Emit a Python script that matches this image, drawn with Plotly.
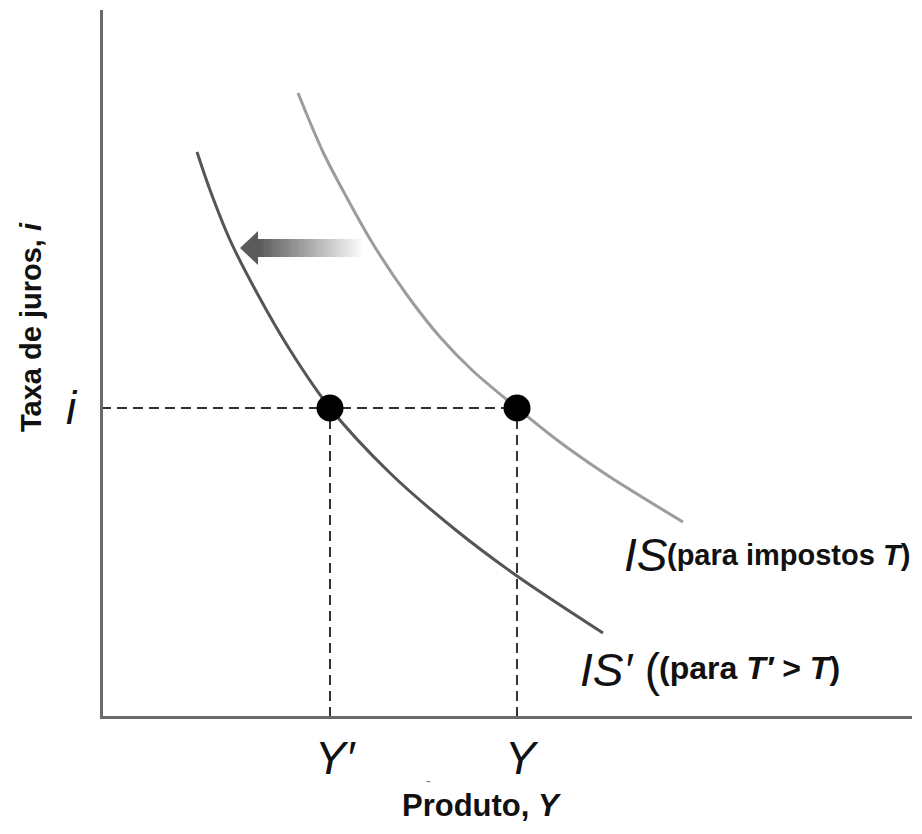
import plotly.graph_objects as go

# ---- data (units: horizontal = output Y, vertical = interest rate i) ----
IS_Y = [197, 222, 246, 272, 306, 339, 372, 416, 456, 506, 582]
IS_I = [624, 565, 519, 473, 422, 380, 346, 309, 277, 242, 195]

ISP_Y = [96, 109, 129, 156, 189, 229, 289, 356, 416, 502]
ISP_I = [565, 527, 477, 424, 367, 309, 244, 186, 141, 84]

EQ_Y = [229, 416]          # Y' and Y
EQ_I = 309                 # i
X_TICK_LABELS = ["<i>Y′</i>", "<i>Y</i>"]

ARROW_TIP = (139, 469)
ARROW_TAIL_X = 264

X_RANGE = [2, 811]
Y_RANGE = [1, 707]

FONT = "Liberation Sans, Arial, sans-serif"


def px(xd):
    return (xd - X_RANGE[0]) / (X_RANGE[1] - X_RANGE[0])


def py(yd):
    return (yd - Y_RANGE[0]) / (Y_RANGE[1] - Y_RANGE[0])


fig = go.Figure()

DASH = dict(color="#333", width=2, dash="10px,6px")
# dashed guide lines
fig.add_trace(go.Scatter(x=[0, EQ_Y[1]], y=[EQ_I, EQ_I], mode="lines", line=DASH,
                         hoverinfo="skip", showlegend=False))
for yv in EQ_Y:
    fig.add_trace(go.Scatter(x=[yv, yv], y=[0, EQ_I], mode="lines", line=DASH,
                             hoverinfo="skip", showlegend=False))

# IS curves
fig.add_trace(go.Scatter(x=IS_Y, y=IS_I, mode="lines",
                         line=dict(color="#9c9c9c", width=3, shape="spline", smoothing=0.9),
                         showlegend=False))
fig.add_trace(go.Scatter(x=ISP_Y, y=ISP_I, mode="lines",
                         line=dict(color="#555555", width=3, shape="spline", smoothing=0.9),
                         showlegend=False))

# equilibrium points
fig.add_trace(go.Scatter(x=EQ_Y, y=[EQ_I, EQ_I], mode="markers",
                         marker=dict(color="black", size=27), showlegend=False))

# gradient arrow (shaft made of segments fading to white)
shapes = []
tipx, tipy = ARROW_TIP
head_len, head_half, shaft_half = 18, 17, 9
shaft_start = tipx + head_len - 1
n = 40
seg = (ARROW_TAIL_X - shaft_start) / n
for k in range(n):
    t = k / (n - 1)
    c = int(90 + (255 - 90) * t)
    shapes.append(dict(type="rect", xref="x", yref="y",
                       x0=shaft_start + k * seg, x1=shaft_start + (k + 1) * seg + 0.6,
                       y0=tipy - shaft_half, y1=tipy + shaft_half,
                       fillcolor=f"rgb({c},{c},{c})", line=dict(width=0), layer="below"))
shapes.append(dict(type="path", xref="x", yref="y",
                   path=f"M {tipx},{tipy} L {tipx+head_len},{tipy+head_half} "
                        f"L {tipx+head_len},{tipy-head_half} Z",
                   fillcolor="rgb(90,90,90)", line=dict(width=0), layer="below"))


def ann(x, y, text, size, color="#111", **kw):
    d = dict(xref="paper", yref="paper", x=px(x), y=py(y), text=text,
             xanchor="center", yanchor="middle",
             font=dict(family=FONT, size=size, color=color), showarrow=False)
    d.update(kw)
    return d


annotations = [
    ann(-70, 390, "<b>Taxa de juros, <i>i</i></b>", 29, textangle=-90),
    ann(381, -89, "<b>Produto, <i>Y</i></b>", 31),
    ann(-29, EQ_I, "<i>i</i>", 46),
    ann(327, -64, "-", 14, color="#777"),
    # IS labels
    ann(521, 162, "<i>IS</i>", 46, xanchor="left"),
    ann(564, 162, "<b>(para impostos <i>T</i>)</b>", 29, xanchor="left"),
    ann(477, 47, "<i>IS′</i> (", 46, xanchor="left"),
    ann(556, 49, "<b>(para <i>T′</i> > <i>T</i>)</b>", 32, xanchor="left"),
]
for yv, lab in zip(EQ_Y, X_TICK_LABELS):
    annotations.append(ann(yv + 5, -41, lab, 46))

fig.update_layout(
    width=906, height=818,
    margin=dict(l=95, r=2, t=2, b=110),
    plot_bgcolor="white", paper_bgcolor="white",
    xaxis=dict(range=X_RANGE, showgrid=False, zeroline=False, showticklabels=False,
               ticks="", showline=True, linecolor="#6a6a6a", linewidth=3, fixedrange=True),
    yaxis=dict(range=Y_RANGE, showgrid=False, zeroline=False, showticklabels=False,
               ticks="", showline=True, linecolor="#6a6a6a", linewidth=3, fixedrange=True),
    shapes=shapes, annotations=annotations, showlegend=False,
)

fig.write_html("out.html")
